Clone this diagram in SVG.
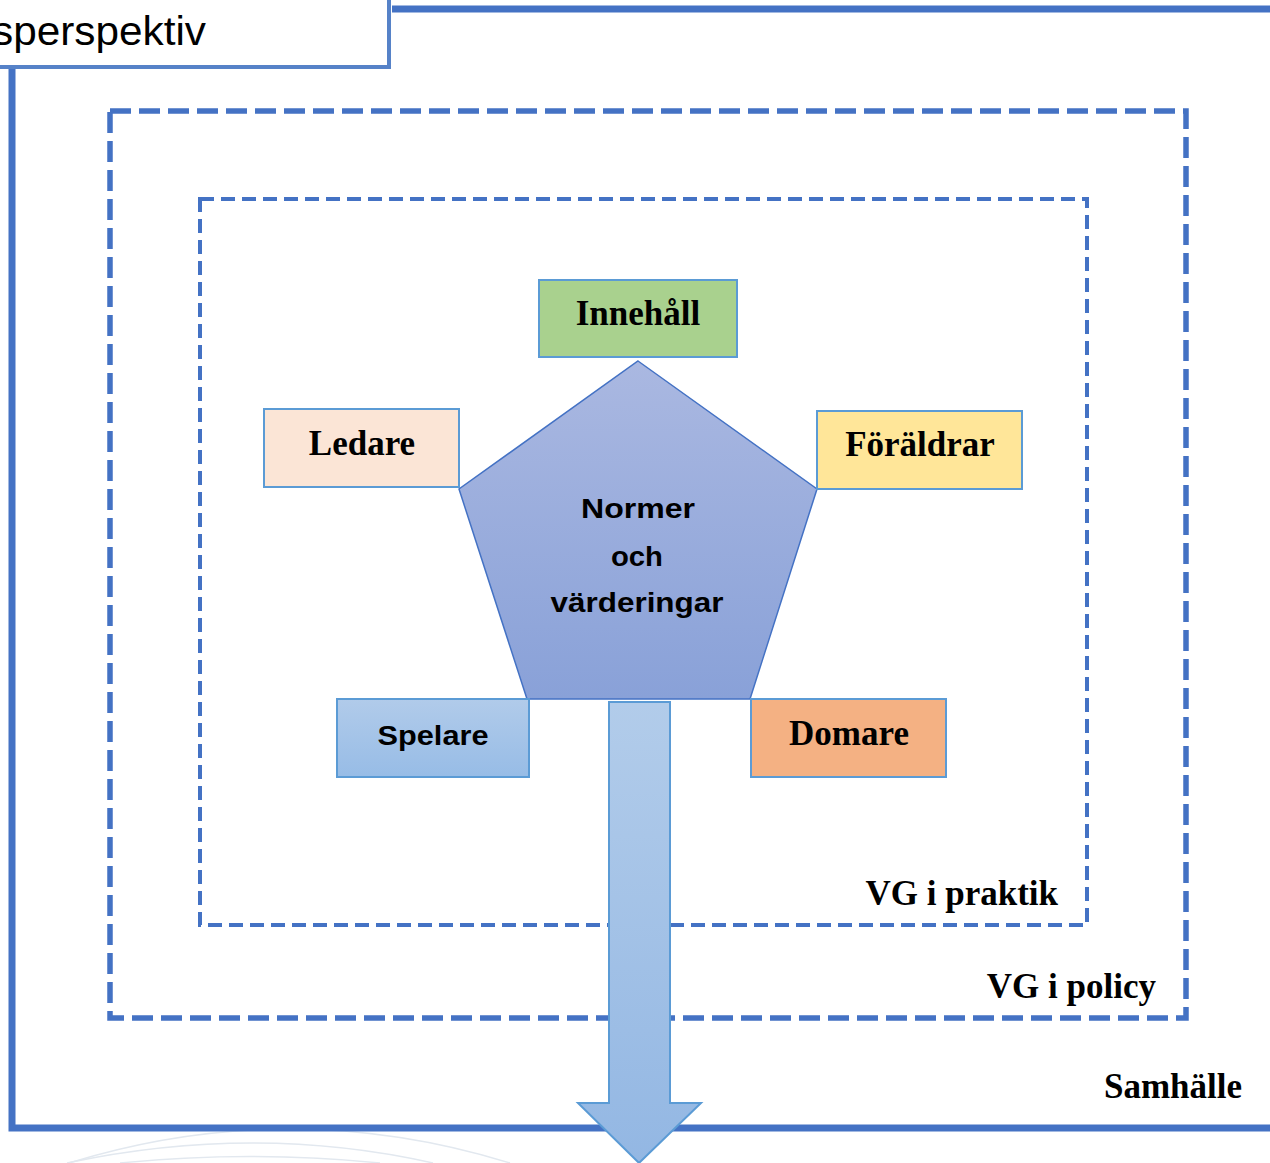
<svg xmlns="http://www.w3.org/2000/svg" width="1270" height="1163" viewBox="0 0 1270 1163">
<defs>
<linearGradient id="gPent" x1="0" y1="0" x2="0" y2="1"><stop offset="0" stop-color="#AAB8E1"/><stop offset="1" stop-color="#89A1D8"/></linearGradient>
<linearGradient id="gArrow" x1="0" y1="0" x2="0" y2="1"><stop offset="0" stop-color="#B2CCEA"/><stop offset="1" stop-color="#93B7E3"/></linearGradient>
<linearGradient id="gSpel" x1="0" y1="0" x2="0" y2="1"><stop offset="0" stop-color="#B1CBEA"/><stop offset="1" stop-color="#97BCE6"/></linearGradient>
</defs>
<style>
.frame{fill:none;stroke:#4472C4;stroke-width:7}
.dash1{fill:none;stroke:#4472C4;stroke-width:5.5;stroke-dasharray:21 8}
.dash2{fill:none;stroke:#4472C4;stroke-width:4;stroke-dasharray:14 7}
.box{stroke:#5B9BD5;stroke-width:2}
.serif{font-family:"Liberation Serif","Times New Roman",serif;font-weight:bold;font-size:35px;fill:#000}
.sans{font-family:"Liberation Sans",Arial,sans-serif;font-weight:bold;fill:#000}
.arc{fill:none;stroke:#E2E8EF;stroke-width:1.5}
</style>
<rect width="1270" height="1163" fill="#fff"/>
<g id="watermark">
<path class="arc" d="M69,1163 Q290,1095 510,1163"/>
<path class="arc" d="M67,1163 Q255,1123 433,1163"/>
<path class="arc" d="M120,1163 Q250,1150 380,1163"/>
</g>
<g id="samhalle">
<path class="frame" d="M392,9 H1270 M12,67 V1128 H1270"/>
<text class="serif" x="1242" y="1098" text-anchor="end">Samhälle</text>
</g>
<g id="title">
<rect x="-10" y="-10" width="399" height="77" fill="#fff" stroke="#5682C8" stroke-width="4"/>
<text x="-8" y="45" font-family="Liberation Sans,Arial,sans-serif" font-size="40" textLength="214" lengthAdjust="spacingAndGlyphs">sperspektiv</text>
</g>
<g id="policy">
<rect class="dash1" x="110" y="111" width="1076" height="907"/>
<text class="serif" x="1156" y="998" text-anchor="end">VG i policy</text>
</g>
<g id="praktik">
<rect class="dash2" x="200" y="199" width="887" height="726"/>
<text class="serif" x="1058" y="905" text-anchor="end">VG i praktik</text>
</g>
<g id="connectors">
<path d="M609,702 H670 V1103 H701 L639,1163 L578,1103 H609 Z" fill="url(#gArrow)" stroke="#5B9BD5" stroke-width="2"/>
</g>
<g id="normer">
<polygon points="638,361 817,489 750,699 527,699 459,489" fill="url(#gPent)" stroke="#4472C4" stroke-width="1.5"/>
<text class="sans" x="638" y="518" font-size="27" text-anchor="middle" textLength="114" lengthAdjust="spacingAndGlyphs">Normer</text>
<text class="sans" x="637" y="566" font-size="27" text-anchor="middle" textLength="52" lengthAdjust="spacingAndGlyphs">och</text>
<text class="sans" x="637" y="612" font-size="27" text-anchor="middle" textLength="173" lengthAdjust="spacingAndGlyphs">värderingar</text>
</g>
<g id="innehall">
<rect class="box" x="539" y="280" width="198" height="77" fill="#A9D18E"/>
<text class="serif" x="638" y="325" text-anchor="middle">Innehåll</text>
</g>
<g id="ledare">
<rect class="box" x="264" y="409" width="195" height="78" fill="#FBE5D6"/>
<text class="serif" x="362" y="455" text-anchor="middle">Ledare</text>
</g>
<g id="foraldrar">
<rect class="box" x="817" y="411" width="205" height="78" fill="#FFE699"/>
<text class="serif" x="920" y="456" text-anchor="middle">Föräldrar</text>
</g>
<g id="spelare">
<rect class="box" x="337" y="699" width="192" height="78" fill="url(#gSpel)"/>
<text class="sans" x="433" y="745" font-size="28" text-anchor="middle" textLength="111" lengthAdjust="spacingAndGlyphs">Spelare</text>
</g>
<g id="domare">
<rect class="box" x="751" y="699" width="195" height="78" fill="#F4B183"/>
<text class="serif" x="849" y="745" text-anchor="middle">Domare</text>
</g>
</svg>
